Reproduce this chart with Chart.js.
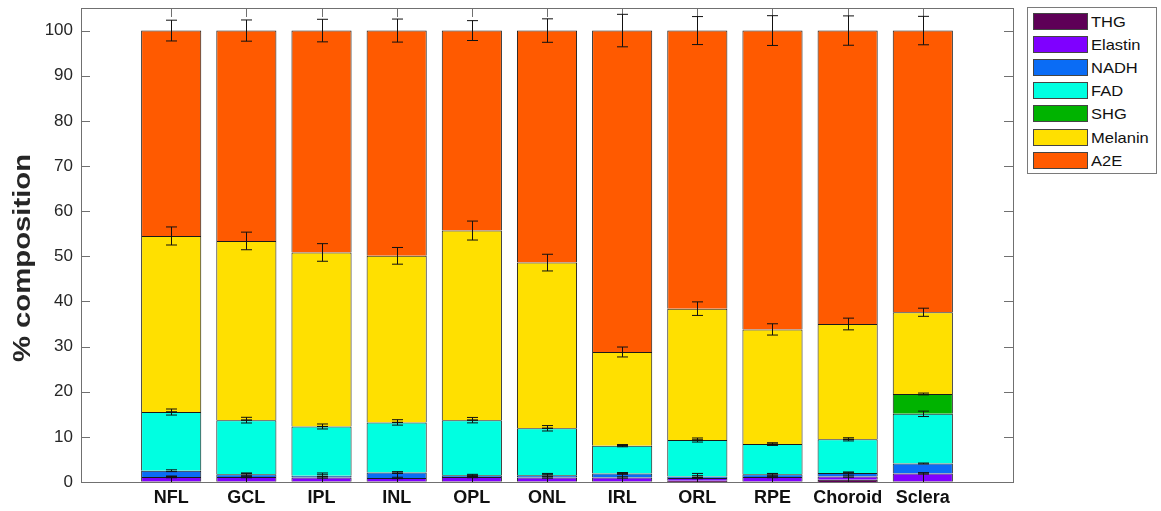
<!DOCTYPE html>
<html>
<head>
<meta charset="utf-8">
<script src="https://cdn.jsdelivr.net/npm/chart.js@4/dist/chart.umd.min.js"></script>
<style>
  html, body { margin: 0; padding: 0; background: #ffffff; }
  #wrap { position: relative; width: 1161px; height: 511px; }
  #chart { position: absolute; left: 0; top: 0; }
  #legend {
    position: absolute; left: 1027px; top: 7px; width: 130px; height: 167px;
    box-sizing: border-box; border: 1px solid #7a7a7a; background: #fff;
    font-family: "Liberation Sans", Arial, sans-serif; font-size: 15px; color: #111;
  }
  .item { position: absolute; left: 5px; height: 17px; display: flex; align-items: center; }
  .sw { width: 55px; height: 17px; box-sizing: border-box; border: 1px solid #444; margin-right: 3px; flex: none; }
  .item span { display: inline-block; transform: scaleX(1.1); transform-origin: left center; white-space: nowrap; }
</style>
</head>
<body>
<div id="wrap">
  <canvas id="chart" width="1161" height="511"></canvas>
  <div id="legend"></div>
</div>
<script>
// Layers of the eye (bar categories)
const categories = ['NFL', 'GCL', 'IPL', 'INL', 'OPL', 'ONL', 'IRL', 'ORL', 'RPE', 'Choroid', 'Sclera'];

// Mean % composition per fluorophore, stacked bottom to top
const thg     = [0.1, 0.1, 0.1, 0.1, 0.1, 0.1, 0.1, 0.3, 0.1, 0.5, 0.1];
const elastin = [1.0, 1.0, 0.9, 0.8, 1.0, 0.9, 0.9, 0.6, 1.0, 0.7, 1.8];
const nadh    = [1.4, 0.6, 0.4, 1.2, 0.4, 0.5, 0.9, 0.3, 0.6, 0.8, 2.2];
const fad     = [13.0, 12.0, 10.9, 11.1, 12.2, 10.4, 6.15, 8.1, 6.7, 7.45, 11.0];
const shg     = [0, 0, 0, 0, 0, 0, 0, 0, 0, 0, 4.4];
const melanin = [39.0, 39.7, 38.55, 36.9, 42.0, 36.7, 20.75, 29.1, 25.4, 25.55, 18.1];
const a2e     = [45.5, 46.6, 49.15, 49.9, 44.3, 51.4, 71.2, 61.6, 66.2, 65.0, 62.4];

// Error (± one standard deviation) at the top of each stacked segment
const thgErr     = [1.2, 1.9, 1.9, 1.9, 1.4, 1.8, 1.8, 1.6, 1.7, 1.65, 1.9];
const elastinErr = [0.15, 0.15, 0.15, 0.15, 0.15, 0.15, 0.15, 0.15, 0.15, 0.15, 0.15];
const nadhErr    = [0.2, 0.2, 0.2, 0.2, 0.2, 0.2, 0.2, 0.2, 0.2, 0.2, 0.1];
const fadErr     = [0.67, 0.63, 0.55, 0.6, 0.6, 0.6, 0.25, 0.45, 0.3, 0.35, 0.6];
const shgErr     = [0, 0, 0, 0, 0, 0, 0, 0, 0, 0, 0.2];
const melaninErr = [2.0, 1.95, 1.95, 1.85, 2.1, 1.85, 1.1, 1.5, 1.25, 1.3, 0.9];
const a2eErr     = [2.3, 2.35, 2.5, 2.55, 2.2, 2.6, 3.6, 3.1, 3.3, 3.25, 3.15];

const yTicks = [0, 10, 20, 30, 40, 50, 60, 70, 80, 90, 100];

const series = [
  { label: 'THG',     values: thg,     err: thgErr,     color: '#5e0057' },
  { label: 'Elastin', values: elastin, err: elastinErr, color: '#7f00ff' },
  { label: 'NADH',    values: nadh,    err: nadhErr,    color: '#0a6cf5' },
  { label: 'FAD',     values: fad,     err: fadErr,     color: '#00ffe1' },
  { label: 'SHG',     values: shg,     err: shgErr,     color: '#00b300' },
  { label: 'Melanin', values: melanin, err: melaninErr, color: '#ffe000' },
  { label: 'A2E',     values: a2e,     err: a2eErr,     color: '#ff5a00' }
];

const AXIS_COLOR = '#707070';
const TICK_LEN = 9;

// Box around the plot with inward tick marks on all four sides
const boxPlugin = {
  id: 'boxAxes',
  beforeDatasetsDraw(chart) {
    const { ctx, chartArea: a, scales } = chart;
    ctx.save();
    ctx.strokeStyle = AXIS_COLOR;
    ctx.lineWidth = 1;
    ctx.beginPath();
    yTicks.forEach(v => {
      const y = Math.round(scales.y.getPixelForValue(v)) + 0.5;
      ctx.moveTo(a.left, y); ctx.lineTo(a.left + TICK_LEN, y);
      ctx.moveTo(a.right, y); ctx.lineTo(a.right - TICK_LEN, y);
    });
    categories.forEach((c, i) => {
      const x = Math.round(scales.x.getPixelForValue(i)) + 0.5;
      ctx.moveTo(x, a.top); ctx.lineTo(x, a.top + TICK_LEN);
      ctx.moveTo(x, a.bottom); ctx.lineTo(x, a.bottom - TICK_LEN);
    });
    ctx.stroke();
    ctx.restore();
  },
  afterDatasetsDraw(chart) {
    const { ctx, chartArea: a } = chart;
    ctx.save();
    ctx.strokeStyle = AXIS_COLOR;
    ctx.lineWidth = 1;
    ctx.strokeRect(Math.round(a.left) + 0.5, Math.round(a.top) + 0.5,
                   Math.round(a.right - a.left), Math.round(a.bottom - a.top));
    ctx.restore();
  },
  afterDraw(chart) {
    // y-axis title
    const { ctx, chartArea: a } = chart;
    ctx.save();
    ctx.translate(23, (a.top + a.bottom) / 2 + 13);
    ctx.rotate(-Math.PI / 2);
    ctx.scale(1.22, 1);
    ctx.font = 'bold 24px "Liberation Sans", Arial, sans-serif';
    ctx.fillStyle = '#262626';
    ctx.textAlign = 'center';
    ctx.textBaseline = 'middle';
    ctx.fillText('% composition', 0, 0);
    ctx.restore();
  }
};

// Error bars drawn at the cumulative top of every segment
const errorBarPlugin = {
  id: 'stackErrorBars',
  afterDatasetsDraw(chart) {
    const { ctx, chartArea: a, scales } = chart;
    ctx.save();
    ctx.beginPath();
    ctx.rect(a.left, a.top, a.right - a.left, a.bottom - a.top);
    ctx.clip();
    ctx.strokeStyle = '#111';
    ctx.lineWidth = 1;
    const cap = 5.5;
    categories.forEach((c, i) => {
      let cum = 0;
      series.forEach(s => {
        cum += s.values[i];
        const e = s.err[i];
        const x = Math.round(scales.x.getPixelForValue(i)) + 0.5;
        const yHi = scales.y.getPixelForValue(cum + e);
        const yLo = scales.y.getPixelForValue(cum - e);
        ctx.beginPath();
        ctx.moveTo(x, yHi); ctx.lineTo(x, yLo);
        ctx.moveTo(x - cap, yHi); ctx.lineTo(x + cap, yHi);
        ctx.moveTo(x - cap, yLo); ctx.lineTo(x + cap, yLo);
        ctx.stroke();
      });
    });
    ctx.restore();
  }
};

const chart = new Chart(document.getElementById('chart'), {
  type: 'bar',
  data: {
    datasets: series.map(s => ({
      label: s.label,
      data: s.values.map((v, i) => ({ x: i, y: v })),
      backgroundColor: s.color,
      borderColor: '#1a1a1a',
      borderWidth: 1,
      borderSkipped: 'start',
      barPercentage: 0.8,
      categoryPercentage: 1.0
    }))
  },
  options: {
    responsive: false,
    animation: false,
    devicePixelRatio: 1,
    layout: { padding: { left: 0, top: 8, right: 148, bottom: 0 } },
    plugins: { legend: { display: false }, tooltip: { enabled: false } },
    scales: {
      x: {
        type: 'linear',
        stacked: true,
        offset: false,
        min: -1.2,
        max: categories.length - 1 + 1.2,
        border: { display: false },
        grid: { display: false, drawTicks: false },
        afterBuildTicks: sc => { sc.ticks = categories.map((c, i) => ({ value: i })); },
        afterFit: sc => { sc.height = 29; sc.paddingLeft = 0; sc.paddingRight = 0; },
        ticks: {
          autoSkip: false, maxRotation: 0, padding: 5,
          color: '#111',
          font: { family: '"Liberation Sans", Arial, sans-serif', size: 18, weight: 'bold' },
          callback: v => categories[v] ?? ''
        }
      },
      y: {
        stacked: true,
        min: 0,
        max: 105,
        border: { display: false },
        grid: { display: false, drawTicks: false },
        afterBuildTicks: sc => { sc.ticks = yTicks.map(v => ({ value: v })); },
        afterFit: sc => { sc.width = 81; sc.paddingTop = 0; sc.paddingBottom = 0; },
        ticks: {
          padding: 8,
          color: '#262626',
          font: { family: '"Liberation Sans", Arial, sans-serif', size: 17 }
        }
      }
    }
  },
  plugins: [boxPlugin, errorBarPlugin]
});

// Legend box
const legend = document.getElementById('legend');
chart.data.datasets.forEach((ds, k) => {
  const item = document.createElement('div');
  item.className = 'item';
  item.style.top = (5 + k * 23.1) + 'px';
  const sw = document.createElement('div');
  sw.className = 'sw';
  sw.style.background = ds.backgroundColor;
  const tx = document.createElement('span');
  tx.textContent = ds.label;
  item.appendChild(sw);
  item.appendChild(tx);
  legend.appendChild(item);
});
</script>
</body>
</html>
